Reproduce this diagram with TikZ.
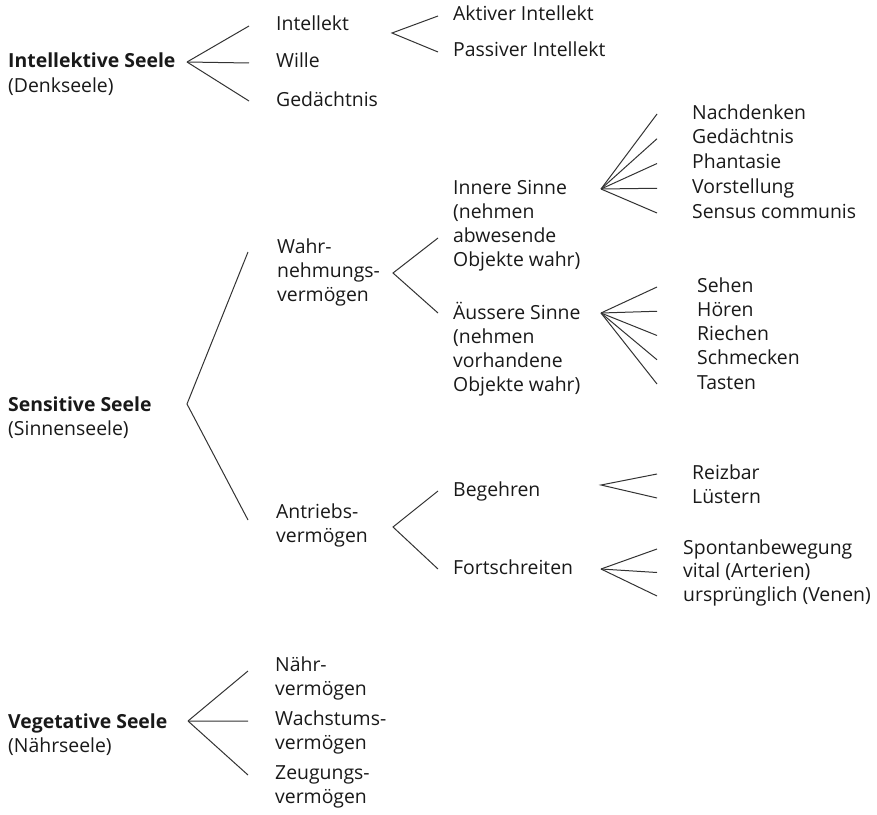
\documentclass[tikz,border=0pt]{standalone}
\usepackage{fontspec}
\setmainfont{Open Sans}
\tikzset{
  item/.style={anchor=base west, inner sep=0pt, text height=14bp, text depth=4bp},
  block/.style={anchor=base west, inner sep=0pt, align=left},
  branch/.style={line width=1bp, black!80},
}
\begin{document}
\begin{tikzpicture}[x=1bp,y=-1bp,font=\fontsize{19.4bp}{24bp}\selectfont,text=black!90]
\useasboundingbox (0,0) rectangle (877,815);
% Intellektive Seele
\node[block] (intel) at (8,92) {\textbf{Intellektive Seele}\\(Denkseele)};
\coordinate (f-intel) at (187,62);
\node[item] (intellekt) at (276,31) {Intellekt};
\node[item] (wille) at (276,68) {Wille};
\node[item] (gedae) at (276,106) {Gedächtnis};
\foreach \n in {intellekt,wille,gedae}
  \draw[branch] (f-intel) -- ([xshift=-27bp]\n.west);
\coordinate (f-intellekt) at (392,33);
\node[item] (aktiv) at (453,21) {Aktiver Intellekt};
\node[item] (passiv) at (453,57) {Passiver Intellekt};
\draw[branch] ([xshift=-15bp]aktiv.west) -- (f-intellekt) -- ([xshift=-15bp]passiv.west);
% Sensitive Seele
\node[block] (sens) at (8,435) {\textbf{Sensitive Seele}\\(Sinnenseele)};
\coordinate (f-sens) at (187,404);
\node[block] (wahr) at (277,301) {Wahr-\\nehmungs-\\vermögen};
\node[block] (antr) at (276,542) {Antriebs-\\vermögen};
\draw[branch] ([xshift=-29bp,yshift=49bp]wahr.base west) -- (f-sens) -- ([xshift=-28bp,yshift=22bp]antr.base west);
% Wahrnehmung
\coordinate (f-wahr) at (393,273);
\node[block] (innen) at (453,266) {Innere Sinne\\(nehmen\\abwesende\\Objekte wahr)};
\node[block] (aussen) at (453,391) {Äussere Sinne\\(nehmen\\vorhandene\\Objekte wahr)};
\coordinate (e-innen) at (438,238);
\coordinate (e-aussen) at (438,313);
\draw[branch] (e-innen) -- (f-wahr) -- (e-aussen);
\coordinate (f-innen) at (601,189);
\foreach \t [count=\i] in {Nachdenken,Gedächtnis,Phantasie,Vorstellung,Sensus communis}{
  \node[item] (in\i) at (692,{94.25+24.75*\i}) {\t};
  \draw[branch] (f-innen) -- ([xshift=-35bp]in\i.west);
}
\coordinate (f-aussen) at (601,313);
\foreach \t [count=\i] in {Sehen,Hören,Riechen,Schmecken,Tasten}{
  \node[item] (out\i) at (697,{267.75+24.25*\i}) {\t};
  \draw[branch] (f-aussen) -- ([xshift=-40bp]out\i.west);
}
% Antrieb
\coordinate (f-antr) at (393,527);
\node[item] (beg) at (453,496) {Begehren};
\node[item] (fort) at (453,574) {Fortschreiten};
\draw[branch] ([xshift=-15bp]beg.west) -- (f-antr) -- ([xshift=-15bp]fort.west);
\coordinate (f-beg) at (601,485);
\node[item] (reiz) at (692,479) {Reizbar};
\node[item] (luest) at (692,503) {Lüstern};
\draw[branch] ([xshift=-35bp]reiz.west) -- (f-beg) -- ([xshift=-35bp]luest.west);
\coordinate (f-fort) at (601,569);
\node[item] (spont) at (683,554) {Spontanbewegung};
\node[item] (vital) at (683,577.5) {vital (Arterien)};
\node[item] (urspr) at (683,601) {ursprünglich (Venen)};
\foreach \n in {spont,vital,urspr}
  \draw[branch] (f-fort) -- ([xshift=-26bp]\n.west);
% Vegetative Seele
\node[block] (veg) at (8,752) {\textbf{Vegetative Seele}\\(Nährseele)};
\coordinate (f-veg) at (188,721);
\node[block] (naehr) at (275,695) {Nähr-\\vermögen};
\node[block] (wachs) at (275,749) {Wachstums-\\vermögen};
\node[block] (zeug) at (275,803) {Zeugungs-\\vermögen};
\foreach \n/\d in {naehr/24,wachs/28,zeug/28}
  \draw[branch] (f-veg) -- ([xshift=-27bp,yshift=\d bp]\n.base west);
\end{tikzpicture}
\end{document}
